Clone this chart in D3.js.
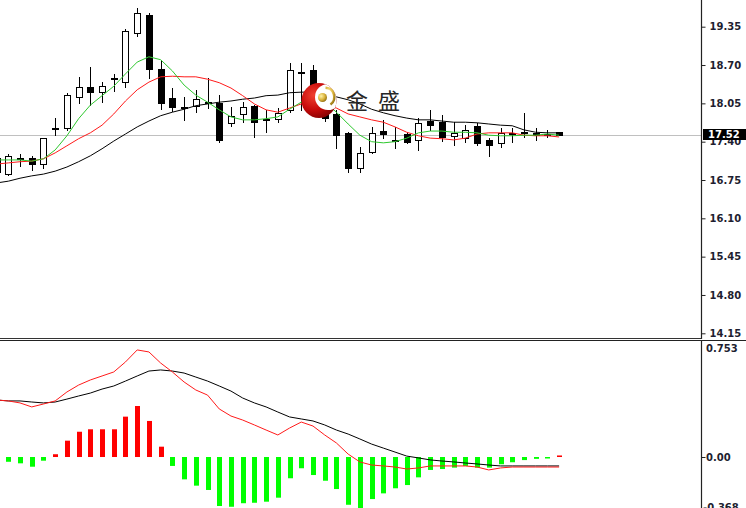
<!DOCTYPE html>
<html><head><meta charset="utf-8">
<script src="https://cdn.jsdelivr.net/npm/d3@7"></script>
<style>html,body{margin:0;padding:0;background:#fff;overflow:hidden}svg{display:block}</style>
</head><body><svg id="c" width="746" height="508"></svg>
<script>
// ---- DATA (first bar is the one cut off at the left edge) ----
const opens  = [16.88,16.86,17.13,17.12,17.02,17.62,17.63,18.16,18.32,18.25,18.46,18.42,19.24,19.55,18.64,18.14,17.99,18.01,18.08,18.05,17.71,17.87,18.01,17.77,17.78,17.94,18.58,18.62,18.16,17.87,17.54,16.95,17.23,17.58,17.43,17.53,17.43,17.75,17.73,17.50,17.46,17.67,17.43,17.37,17.54,17.56,17.55,17.52,17.56];
const highs  = [17.17,17.19,17.19,17.15,17.47,17.80,18.22,18.50,18.67,18.42,18.55,19.31,19.66,19.58,18.79,18.31,18.16,18.28,18.48,18.19,17.99,18.08,18.02,17.94,17.97,18.73,18.73,18.70,18.22,17.94,17.57,17.31,17.65,17.77,17.65,17.57,17.80,17.94,17.85,17.74,17.68,17.71,17.46,17.63,17.63,17.88,17.63,17.60,17.57];
const lows   = [16.84,16.83,16.98,16.92,16.95,17.51,17.60,18.05,18.02,18.08,18.26,18.32,19.19,18.48,17.95,17.92,17.77,17.91,17.97,17.40,17.67,17.74,17.48,17.57,17.74,17.90,17.94,18.00,17.75,17.29,16.89,16.89,17.20,17.46,17.29,17.37,17.26,17.60,17.41,17.34,17.40,17.34,17.15,17.31,17.40,17.48,17.43,17.48,17.51];
const closes = [17.12,17.15,17.12,17.02,17.46,17.64,18.19,18.33,18.24,18.34,18.48,19.27,19.59,18.63,18.05,17.99,17.98,18.12,18.06,17.43,17.84,17.99,17.74,17.78,17.88,18.62,18.59,18.20,17.80,17.51,16.95,17.20,17.54,17.53,17.42,17.40,17.71,17.69,17.48,17.54,17.60,17.37,17.34,17.54,17.55,17.54,17.51,17.53,17.52];

const maFast = [17.09,17.09,17.09,17.07,17.11,17.26,17.50,17.79,18.02,18.18,18.34,18.55,18.75,18.84,18.79,18.60,18.36,18.19,18.07,17.94,17.82,17.77,17.77,17.79,17.82,17.95,18.07,18.11,18.07,17.90,17.70,17.51,17.40,17.38,17.40,17.46,17.55,17.58,17.58,17.56,17.56,17.55,17.51,17.50,17.50,17.51,17.51,17.53,17.51];
const maMid  = [17.02,17.04,17.06,17.07,17.11,17.21,17.33,17.45,17.55,17.68,17.87,18.09,18.28,18.41,18.50,18.51,18.50,18.50,18.46,18.40,18.31,18.18,18.04,17.94,17.90,17.97,18.04,18.07,18.02,17.97,17.87,17.82,17.77,17.73,17.65,17.56,17.50,17.46,17.45,17.43,17.46,17.53,17.55,17.55,17.55,17.51,17.50,17.50,17.48];
const maSlow = [16.70,16.73,16.78,16.82,16.85,16.90,16.97,17.06,17.16,17.28,17.41,17.53,17.65,17.75,17.84,17.90,17.95,18.01,18.04,18.07,18.09,18.12,18.14,18.18,18.19,18.23,18.24,18.24,18.21,18.16,18.11,18.04,17.95,17.89,17.84,17.80,17.77,17.77,17.75,17.73,17.73,17.72,17.70,17.68,17.67,17.60,17.56,17.55,17.55];

const macdDif = [0.370,0.364,0.351,0.325,0.344,0.364,0.422,0.467,0.500,0.526,0.552,0.617,0.695,0.682,0.610,0.552,0.487,0.435,0.402,0.312,0.266,0.240,0.208,0.175,0.143,0.188,0.227,0.201,0.143,0.091,0.019,-0.032,-0.052,-0.058,-0.065,-0.078,-0.071,-0.058,-0.058,-0.058,-0.058,-0.065,-0.084,-0.071,-0.065,-0.065,-0.065,-0.065,-0.065];
const macdDea = [0.370,0.364,0.364,0.357,0.351,0.357,0.376,0.396,0.415,0.441,0.461,0.493,0.526,0.558,0.565,0.558,0.545,0.519,0.493,0.461,0.428,0.383,0.351,0.325,0.292,0.260,0.247,0.234,0.208,0.175,0.149,0.117,0.084,0.058,0.032,0.006,-0.006,-0.019,-0.026,-0.032,-0.039,-0.045,-0.052,-0.058,-0.058,-0.058,-0.058,-0.058,-0.058];
const macdHist = [-0.020,-0.031,-0.041,-0.063,-0.024,0.018,0.106,0.164,0.180,0.180,0.180,0.262,0.331,0.234,0.067,-0.058,-0.145,-0.186,-0.214,-0.318,-0.323,-0.300,-0.297,-0.290,-0.264,-0.138,-0.073,-0.117,-0.154,-0.208,-0.310,-0.350,-0.273,-0.236,-0.203,-0.182,-0.132,-0.084,-0.078,-0.069,-0.058,-0.069,-0.069,-0.047,-0.034,-0.020,-0.012,-0.008,0.010];

const priceTicks = [19.35,18.70,18.05,17.40,16.75,16.10,15.45,14.80,14.15];
const priceTickLabels = ["19.35","18.70","18.05","17.40","16.75","16.10","15.45","14.80","14.15"];
const macdTicks = [0.753,0.00,-0.368];
const macdTickLabels = ["0.753","0.00","-0.368"];
const lastPrice = 17.52;
const lastPriceLabel = "17.52";
const logoText = ["金","盛"];

// ---- LAYOUT ----
const n = closes.length;
const svg = d3.select("#c");
const axisX = 701.5;
const x = d3.scaleLinear().domain([0, n - 1]).range([-3.42, 559.1]);
const y = d3.scaleLinear().domain([14.15, 19.35]).range([333.3, 26.7]);
const ym = d3.scaleLinear().domain([-0.368, 0.753]).range([513.7, 341]);
const labelFont = "bold 10px 'DejaVu Sans'";
const labelColor = "#1e1e30";

const defs = svg.append("defs");
defs.append("clipPath").attr("id", "mainClip").append("rect").attr("x", 0).attr("y", 0).attr("width", 701).attr("height", 338);
defs.append("clipPath").attr("id", "subClip").append("rect").attr("x", 0).attr("y", 341).attr("width", 701).attr("height", 167);

svg.append("rect").attr("width", 746).attr("height", 508).attr("fill", "#fff");

// ---- MAIN PANEL ----
const main = svg.append("g").attr("clip-path", "url(#mainClip)");

main.append("line").attr("x1", 0).attr("x2", axisX).attr("y1", Math.round(y(lastPrice)) + 0.5).attr("y2", Math.round(y(lastPrice)) + 0.5)
  .attr("stroke", "#c0c0c0").attr("stroke-width", 1);

const cg = main.append("g");
d3.range(n).forEach(i => {
  const r = Math.round(x(i));
  const o = opens[i], c = closes[i];
  const up = c >= o;
  cg.append("line").attr("x1", r + 0.5).attr("x2", r + 0.5)
    .attr("y1", Math.round(y(highs[i]))).attr("y2", Math.round(y(lows[i])) + 1)
    .attr("stroke", "#000").attr("stroke-width", 1);
  const yt = Math.round(y(Math.max(o, c)));
  const yb = Math.round(y(Math.min(o, c)));
  const h = Math.max(yb - yt, 1);
  cg.append("rect").attr("x", r - 2.5).attr("y", yt + 0.5).attr("width", 6).attr("height", h)
    .attr("fill", up ? "#fff" : "#000").attr("stroke", "#000").attr("stroke-width", 1);
});

const lineP = d3.line().x((d, i) => x(i)).y(d => y(d));
main.append("path").attr("d", lineP(maSlow)).attr("fill", "none").attr("stroke", "#000").attr("stroke-width", 1);
main.append("path").attr("d", lineP(maMid)).attr("fill", "none").attr("stroke", "#ff1a1a").attr("stroke-width", 1);
main.append("path").attr("d", lineP(maFast)).attr("fill", "none").attr("stroke", "#2ec82e").attr("stroke-width", 1);

// logo
const rg = defs.append("radialGradient").attr("id", "redg").attr("cx", "35%").attr("cy", "35%").attr("r", "75%");
rg.append("stop").attr("offset", "0%").attr("stop-color", "#f04030");
rg.append("stop").attr("offset", "55%").attr("stop-color", "#c80a0a");
rg.append("stop").attr("offset", "100%").attr("stop-color", "#7a0000");
const gg = defs.append("radialGradient").attr("id", "goldg").attr("cx", "35%").attr("cy", "35%").attr("r", "70%");
gg.append("stop").attr("offset", "0%").attr("stop-color", "#fff2a8");
gg.append("stop").attr("offset", "60%").attr("stop-color", "#d9b23a");
gg.append("stop").attr("offset", "100%").attr("stop-color", "#8f6d10");
defs.append("clipPath").attr("id", "logoClip").append("circle").attr("cx", 319).attr("cy", 100.5).attr("r", 17.5);
const logo = svg.append("g");
logo.append("circle").attr("cx", 319).attr("cy", 100.5).attr("r", 17.5).attr("fill", "url(#redg)");
logo.append("circle").attr("cx", 328).attr("cy", 97).attr("r", 13).attr("fill", "#fff").attr("clip-path", "url(#logoClip)");
const arc = d3.arc().innerRadius(8).outerRadius(10.5).startAngle(Math.PI * 0.02).endAngle(Math.PI * 0.8);
logo.append("path").attr("d", arc()).attr("transform", "translate(325,97)").attr("fill", "url(#goldg)");
logo.append("circle").attr("cx", 322.5).attr("cy", 97.5).attr("r", 4.5).attr("fill", "url(#goldg)");
logo.selectAll("text.lt").data(logoText).enter().append("text").attr("class", "lt")
  .attr("x", (d, i) => 357 + i * 32).attr("y", 108.5).attr("text-anchor", "middle")
  .style("font", "22px 'Noto Sans CJK SC'").attr("fill", "#262626").text(d => d);

// ---- SUB PANEL (MACD) ----
const sub = svg.append("g").attr("clip-path", "url(#subClip)");
sub.selectAll("rect.h").data(macdHist).enter().append("rect").attr("class", "h")
  .attr("x", (d, i) => Math.round(x(i)) - 2)
  .attr("y", d => Math.min(ym(d), ym(0)))
  .attr("width", 5)
  .attr("height", d => Math.max(Math.abs(ym(d) - ym(0)), 1.5))
  .attr("fill", d => d >= 0 ? "#ff0000" : "#00ff00");
const lineM = d3.line().x((d, i) => x(i)).y(d => ym(d));
sub.append("path").attr("d", lineM(macdDea)).attr("fill", "none").attr("stroke", "#000").attr("stroke-width", 1);
sub.append("path").attr("d", lineM(macdDif)).attr("fill", "none").attr("stroke", "#ff1a1a").attr("stroke-width", 1);

// ---- AXES & FRAME ----
const axG = svg.append("g").attr("transform", `translate(${axisX},0)`)
  .call(d3.axisRight(y).tickValues(priceTicks).tickFormat((d, i) => priceTickLabels[i]).tickSize(4).tickPadding(4));
axG.select(".domain").remove();
axG.selectAll(".tick line").attr("stroke", "#222");
axG.selectAll(".tick text").style("font", labelFont).attr("fill", labelColor);

const axM = svg.append("g").attr("transform", `translate(${axisX},0)`)
  .call(d3.axisRight(ym).tickValues(macdTicks).tickFormat((d, i) => macdTickLabels[i]).tickSize(4).tickPadding(2));
axM.select(".domain").remove();
axM.selectAll(".tick line").attr("stroke", "#222").attr("opacity", d => d === 0 ? 1 : 0);
axM.selectAll(".tick text").style("font", labelFont).attr("fill", labelColor)
  .attr("dy", d => d === 0.753 ? "1.05em" : (d < 0 ? "-0.35em" : "0.32em"))
  .attr("x", d => d < 0 ? 1.5 : 4.5);

const lpY = y(lastPrice);
svg.append("rect").attr("x", 703).attr("y", Math.round(lpY) - 6).attr("width", 43).attr("height", 11).attr("fill", "#000");
svg.append("text").attr("x", 708).attr("y", lpY).attr("dy", "0.32em").style("font", labelFont).attr("fill", "#fff").text(lastPriceLabel);

svg.append("line").attr("x1", axisX).attr("x2", axisX).attr("y1", 0).attr("y2", 339).attr("stroke", "#222").attr("stroke-width", 1.2);
svg.append("line").attr("x1", axisX).attr("x2", axisX).attr("y1", 340).attr("y2", 508).attr("stroke", "#222").attr("stroke-width", 1.2);
svg.append("line").attr("x1", 0).attr("x2", axisX).attr("y1", 338.5).attr("y2", 338.5).attr("stroke", "#333").attr("stroke-width", 1);
svg.append("line").attr("x1", 0).attr("x2", 746).attr("y1", 340.5).attr("y2", 340.5).attr("stroke", "#222").attr("stroke-width", 1);
</script></body></html>
